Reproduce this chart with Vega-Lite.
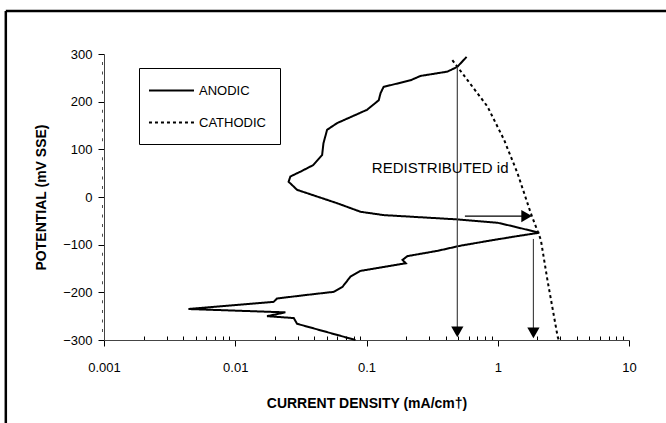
{
  "$schema": "https://vega.github.io/schema/vega-lite/v6.json",
  "width": 525,
  "height": 286,
  "autosize": {"type": "none"},
  "padding": {"left": 104, "top": 54, "right": 37, "bottom": 83},
  "background": "white",
  "config": {"view": {"stroke": null}, "font": "Liberation Sans"},
  "datasets": {
    "curves": [
      {"i": 1, "v": 0.579, "mv": 294, "s": "ANODIC"},
      {"i": 2, "v": 0.492, "mv": 273, "s": "ANODIC"},
      {"i": 3, "v": 0.413, "mv": 263, "s": "ANODIC"},
      {"i": 4, "v": 0.258, "mv": 254, "s": "ANODIC"},
      {"i": 5, "v": 0.217, "mv": 245, "s": "ANODIC"},
      {"i": 6, "v": 0.135, "mv": 231, "s": "ANODIC"},
      {"i": 7, "v": 0.128, "mv": 218, "s": "ANODIC"},
      {"i": 8, "v": 0.124, "mv": 203, "s": "ANODIC"},
      {"i": 9, "v": 0.101, "mv": 183, "s": "ANODIC"},
      {"i": 10, "v": 0.0597, "mv": 155, "s": "ANODIC"},
      {"i": 11, "v": 0.0501, "mv": 141, "s": "ANODIC"},
      {"i": 12, "v": 0.047, "mv": 113, "s": "ANODIC"},
      {"i": 13, "v": 0.0459, "mv": 88, "s": "ANODIC"},
      {"i": 14, "v": 0.0393, "mv": 67, "s": "ANODIC"},
      {"i": 15, "v": 0.0313, "mv": 53, "s": "ANODIC"},
      {"i": 16, "v": 0.0263, "mv": 43, "s": "ANODIC"},
      {"i": 17, "v": 0.0255, "mv": 32, "s": "ANODIC"},
      {"i": 18, "v": 0.0296, "mv": 15, "s": "ANODIC"},
      {"i": 19, "v": 0.0597, "mv": -13, "s": "ANODIC"},
      {"i": 20, "v": 0.09, "mv": -31, "s": "ANODIC"},
      {"i": 21, "v": 0.1355, "mv": -38, "s": "ANODIC"},
      {"i": 22, "v": 0.492, "mv": -47, "s": "ANODIC"},
      {"i": 23, "v": 0.996, "mv": -54, "s": "ANODIC"},
      {"i": 24, "v": 1.33, "mv": -62, "s": "ANODIC"},
      {"i": 25, "v": 2.07, "mv": -75, "s": "ANODIC"},
      {"i": 26, "v": 1.414, "mv": -82, "s": "ANODIC"},
      {"i": 27, "v": 0.938, "mv": -90, "s": "ANODIC"},
      {"i": 28, "v": 0.523, "mv": -102, "s": "ANODIC"},
      {"i": 29, "v": 0.347, "mv": -113, "s": "ANODIC"},
      {"i": 30, "v": 0.205, "mv": -124, "s": "ANODIC"},
      {"i": 31, "v": 0.188, "mv": -132, "s": "ANODIC"},
      {"i": 32, "v": 0.199, "mv": -139, "s": "ANODIC"},
      {"i": 33, "v": 0.09, "mv": -155, "s": "ANODIC"},
      {"i": 34, "v": 0.0755, "mv": -167, "s": "ANODIC"},
      {"i": 35, "v": 0.0654, "mv": -189, "s": "ANODIC"},
      {"i": 36, "v": 0.0562, "mv": -199, "s": "ANODIC"},
      {"i": 37, "v": 0.0313, "mv": -207, "s": "ANODIC"},
      {"i": 38, "v": 0.0208, "mv": -213, "s": "ANODIC"},
      {"i": 39, "v": 0.0196, "mv": -220, "s": "ANODIC"},
      {"i": 40, "v": 0.0044, "mv": -235, "s": "ANODIC"},
      {"i": 41, "v": 0.0241, "mv": -242, "s": "ANODIC"},
      {"i": 42, "v": 0.01746, "mv": -250, "s": "ANODIC"},
      {"i": 43, "v": 0.0279, "mv": -254, "s": "ANODIC"},
      {"i": 44, "v": 0.0296, "mv": -266, "s": "ANODIC"},
      {"i": 45, "v": 0.0824, "mv": -300, "s": "ANODIC"},
      {"i": 1, "v": 0.451, "mv": 287, "s": "CATHODIC"},
      {"i": 2, "v": 0.549, "mv": 256, "s": "CATHODIC"},
      {"i": 3, "v": 0.834, "mv": 190, "s": "CATHODIC"},
      {"i": 4, "v": 1.117, "mv": 120, "s": "CATHODIC"},
      {"i": 5, "v": 1.414, "mv": 50, "s": "CATHODIC"},
      {"i": 6, "v": 1.786, "mv": -34, "s": "CATHODIC"},
      {"i": 7, "v": 2.13, "mv": -90, "s": "CATHODIC"},
      {"i": 8, "v": 2.39, "mv": -174, "s": "CATHODIC"},
      {"i": 9, "v": 2.86, "mv": -293, "s": "CATHODIC"},
      {"i": 10, "v": 2.92, "mv": -300, "s": "CATHODIC"}
    ],
    "arrows": [
      {"x": 0.492, "x2": 0.492, "y": 273, "y2": -283, "d": "v"},
      {"x": 1.87, "x2": 1.87, "y": -88, "y2": -285, "d": "v"},
      {"x": 0.562, "x2": 1.62, "y": -40, "y2": -40, "d": "h"}
    ],
    "heads": [
      {"v": 0.492, "mv": -283, "shape": "triangle-down"},
      {"v": 1.87, "mv": -285, "shape": "triangle-down"},
      {"v": 1.66, "mv": -40, "shape": "triangle-right"}
    ],
    "notes": [
      {"v": 0.364, "mv": 61, "t": "REDISTRIBUTED id"}
    ],
    "minor": [
      {"mv": -280}, {"mv": -260}, {"mv": -240}, {"mv": -220},
      {"mv": -180}, {"mv": -160}, {"mv": -140}, {"mv": -120},
      {"mv": -80}, {"mv": -60}, {"mv": -40}, {"mv": -20},
      {"mv": 20}, {"mv": 40}, {"mv": 60}, {"mv": 80},
      {"mv": 120}, {"mv": 140}, {"mv": 160}, {"mv": 180},
      {"mv": 220}, {"mv": 240}, {"mv": 260}, {"mv": 280}
    ],
    "frame": [
      {"x": 0.0001786, "x2": 0.0001786, "y": 390, "y2": -500},
      {"x": 0.0001786, "x2": 30, "y": 390, "y2": 390}
    ]
  },
  "layer": [
    {
      "data": {"name": "curves"},
      "mark": {"type": "line", "color": "black", "strokeWidth": 2},
      "encoding": {
        "x": {
          "field": "v", "type": "quantitative",
          "scale": {"type": "log", "domain": [0.001, 10], "nice": false},
          "axis": {
            "title": "CURRENT DENSITY (mA/cm†)",
            "titleFont": "Liberation Sans", "titleFontSize": 14, "titleFontWeight": "bold", "titleColor": "black", "titlePadding": 22,
            "values": [0.001,0.002,0.003,0.004,0.005,0.006,0.007,0.008,0.009,0.01,0.02,0.03,0.04,0.05,0.06,0.07,0.08,0.09,0.1,0.2,0.3,0.4,0.5,0.6,0.7,0.8,0.9,1,2,3,4,5,6,7,8,9,10],
            "format": "~g",
            "labelExpr": "abs(log(datum.value)/LN10 - round(log(datum.value)/LN10)) < 0.001 ? datum.label : ''",
            "labelOverlap": false, "labelFlush": false, "labelBound": false,
            "labelFont": "Liberation Sans", "labelFontSize": 13, "labelColor": "black", "labelPadding": 15,
            "domainColor": "#444", "domainWidth": 1,
            "tickColor": "black",
            "tickSize": {"condition": {"test": "abs(log(datum.value)/LN10 - round(log(datum.value)/LN10)) < 0.001", "value": 6}, "value": -4},
            "grid": false
          }
        },
        "y": {
          "field": "mv", "type": "quantitative",
          "scale": {"domain": [-300, 300], "nice": false},
          "axis": {
            "title": "POTENTIAL (mV SSE)",
            "titleFont": "Liberation Sans", "titleFontSize": 14, "titleFontWeight": "bold", "titleColor": "black", "titlePadding": 14,
            "values": [-300, -200, -100, 0, 100, 200, 300],
            "labelOverlap": false, "labelFlush": false, "labelBound": false,
            "labelFont": "Liberation Sans", "labelFontSize": 13, "labelColor": "black", "labelPadding": 6,
            "domainColor": "#444", "domainWidth": 1,
            "tickColor": "black", "tickSize": 6,
            "grid": false
          }
        },
        "order": {"field": "i", "type": "quantitative"},
        "strokeDash": {
          "field": "s", "type": "nominal",
          "scale": {"domain": ["ANODIC", "CATHODIC"], "range": [[1, 0], [3, 3]]},
          "legend": {
            "orient": "none", "legendX": 35, "legendY": 14, "title": null,
            "strokeColor": "black", "fillColor": "white", "padding": 14,
            "symbolType": "M-1.67,0H4.33", "symbolSize": 225, "symbolStrokeWidth": 1.8, "symbolStrokeColor": "black",
            "labelFont": "Liberation Sans", "labelFontSize": 13, "labelColor": "black", "labelOffset": 29,
            "rowPadding": 16
          }
        }
      }
    },
    {
      "data": {"name": "minor"},
      "mark": {"type": "tick", "color": "black", "thickness": 1, "size": 3, "xOffset": -1.5},
      "encoding": {
        "y": {"field": "mv", "type": "quantitative"},
        "x": {"datum": 0.001, "type": "quantitative"}
      }
    },
    {
      "data": {"name": "frame"},
      "mark": {"type": "rule", "color": "black", "strokeWidth": 2.5, "clip": false},
      "encoding": {
        "x": {"field": "x", "type": "quantitative"},
        "x2": {"field": "x2"},
        "y": {"field": "y", "type": "quantitative"},
        "y2": {"field": "y2"}
      }
    },
    {
      "data": {"name": "arrows"},
      "transform": [{"filter": "datum.d == 'v'"}],
      "mark": {"type": "rule", "color": "#444", "strokeWidth": 1.2},
      "encoding": {
        "x": {"field": "x", "type": "quantitative"},
        "x2": {"field": "x2"},
        "y": {"field": "y", "type": "quantitative"},
        "y2": {"field": "y2"}
      }
    },
    {
      "data": {"name": "arrows"},
      "transform": [{"filter": "datum.d == 'h'"}],
      "mark": {"type": "rule", "color": "black", "strokeWidth": 1.2},
      "encoding": {
        "x": {"field": "x", "type": "quantitative"},
        "x2": {"field": "x2"},
        "y": {"field": "y", "type": "quantitative"},
        "y2": {"field": "y2"}
      }
    },
    {
      "data": {"name": "heads"},
      "mark": {"type": "point", "filled": true, "color": "black", "size": 150, "opacity": 1},
      "encoding": {
        "x": {"field": "v", "type": "quantitative"},
        "y": {"field": "mv", "type": "quantitative"},
        "shape": {"field": "shape", "type": "nominal", "scale": null}
      }
    },
    {
      "data": {"name": "notes"},
      "mark": {"type": "text", "font": "Liberation Sans", "fontSize": 15, "color": "black"},
      "encoding": {
        "x": {"field": "v", "type": "quantitative"},
        "y": {"field": "mv", "type": "quantitative"},
        "text": {"field": "t", "type": "nominal"}
      }
    }
  ]
}
